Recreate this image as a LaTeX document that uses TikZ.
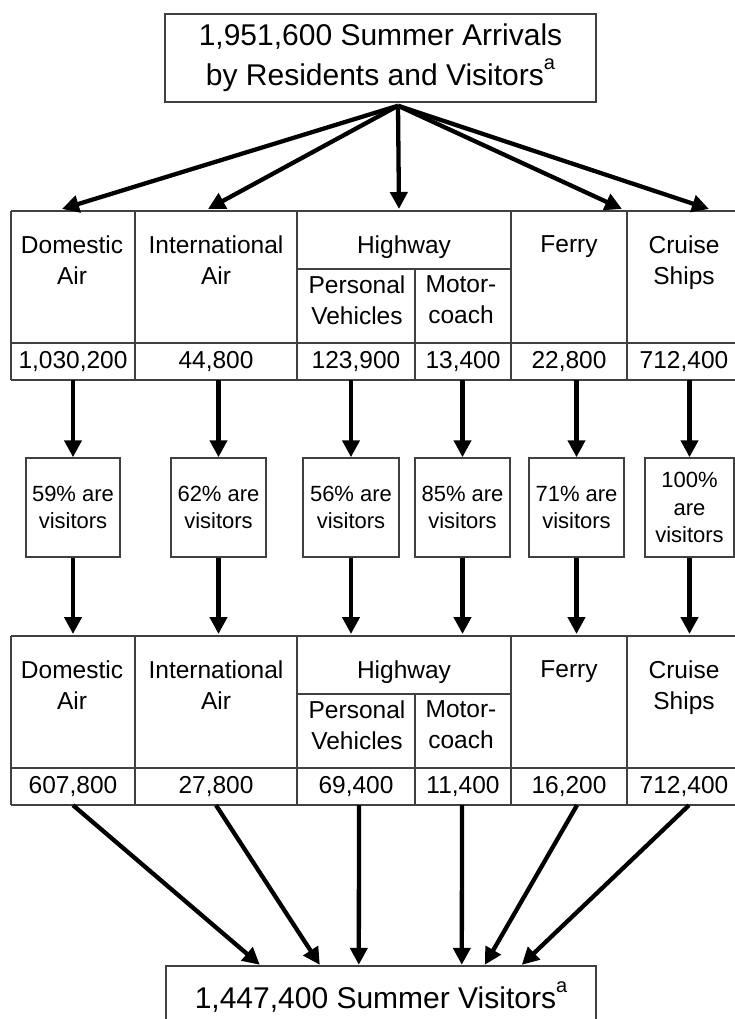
\documentclass[tikz,border=0pt]{standalone}
\usepackage{fontspec}
\setmainfont{Liberation Sans}
\usetikzlibrary{arrows.meta}
\newcommand\mysupa{\raisebox{16pt}{\fontsize{20}{20}\selectfont a}}
\tikzset{
  gridline/.style={line width=1.5pt, draw=black!75},
  arr/.style={line width=4.3pt, draw=black, -{Triangle[length=17pt,width=17pt]}},
  bigtext/.style={font=\fontsize{30}{40}\selectfont},
  hdr/.style={font=\fontsize{24.5}{31}\selectfont, align=center, anchor=north, inner sep=0pt},
  num/.style={font=\fontsize{24.5}{31}\selectfont, inner sep=0pt, minimum height=37pt},
  pct/.style={draw=black!75, line width=1.5pt, font=\fontsize{22}{27.5}\selectfont, align=center,
              minimum width=95pt, minimum height=99pt, inner sep=0pt},
}
\begin{document}
\begin{tikzpicture}[x=1pt,y=-1pt]
\useasboundingbox (0,0) rectangle (735,1019);
\fill[white] (0,0) rectangle (735,1019);

% top box
\node[draw=black!75, line width=1.5pt, minimum width=431pt, minimum height=88pt, inner sep=0pt,
      bigtext, align=center] (src) at (380.5,58) {1,951,600 Summer Arrivals\\ by Residents and Visitors\mysupa};

% ---------- table 1 ----------
\draw[gridline] (11,211) -- (735,211) (11,343) -- (735,343) (11,380) -- (735,380) (297,269) -- (511,269)
  (11,211) -- (11,380) (135,211) -- (135,380) (297,211) -- (297,380) (511,211) -- (511,380)
  (627,211) -- (627,380) (415,269) -- (415,380);
\node[hdr] (h1dom) at (72,235.5) {Domestic\\Air};
\node[hdr] (h1int) at (216,235.5) {International\\Air};
\node[hdr] (h1hwy) at (404,235.5) {Highway};
\node[hdr] (h1per) at (357,275.5) {Personal\\Vehicles};
\node[hdr] (h1mot) at (461,275.5) {Motor-\\coach};
\node[hdr] (h1fer) at (569,235.5) {Ferry};
\node[hdr] (h1cru) at (684,235.5) {Cruise\\Ships};
\node[num, minimum width=124pt] (n1dom) at (73,361.5) {1,030,200};
\node[num, minimum width=162pt] (n1int) at (216,361.5) {44,800};
\node[num, minimum width=118pt] (n1per) at (356,361.5) {123,900};
\node[num, minimum width=96pt] (n1mot) at (463,361.5) {13,400};
\node[num, minimum width=116pt] (n1fer) at (569,361.5) {22,800};
\node[num, minimum width=114pt] (n1cru) at (684,361.5) {712,400};

% arrows from source
\coordinate (a1) at (62,209);
\coordinate (a2) at (208,209);
\coordinate (a3) at (399,209);
\coordinate (a4) at (622,209);
\coordinate (a5) at (709,209);
\coordinate (srcpt) at ([shift={(17.5,3)}]src.south);
\foreach \t in {a1,a2,a3,a4,a5} \draw[arr] (srcpt) -- (\t);

% percent boxes
\node[pct, minimum width=94pt] (pdom) at (73,507.5) {59\% are\\visitors};
\node[pct] (pint) at (218.5,507.5) {62\% are\\visitors};
\node[pct, minimum width=96pt] (pper) at (351,507.5) {56\% are\\visitors};
\node[pct] (pmot) at (462.5,507.5) {85\% are\\visitors};
\node[pct] (pfer) at (576.5,507.5) {71\% are\\visitors};
\node[pct, minimum width=89pt] (pcru) at (689.5,507.5) {100\%\\are\\visitors};

\draw[arr] (n1dom.south -| pdom.north) -- (pdom.north);
\draw[arr] (n1int.south -| pint.north) -- (pint.north);
\draw[arr] (n1per.south -| pper.north) -- (pper.north);
\draw[arr] (n1mot.south -| pmot.north) -- (pmot.north);
\draw[arr] (n1fer.south -| pfer.north) -- (pfer.north);
\draw[arr] (n1cru.south -| pcru.north) -- (pcru.north);

% ---------- table 2 ----------
\coordinate (t2) at (0,634);
\draw[gridline] (11,636) -- (735,636) (11,768) -- (735,768) (11,805) -- (735,805) (297,694) -- (511,694)
  (11,636) -- (11,805) (135,636) -- (135,805) (297,636) -- (297,805) (511,636) -- (511,805)
  (627,636) -- (627,805) (415,694) -- (415,805);
\node[hdr] (h2dom) at (72,660.5) {Domestic\\Air};
\node[hdr] (h2int) at (216,660.5) {International\\Air};
\node[hdr] (h2hwy) at (404,660.5) {Highway};
\node[hdr] (h2per) at (357,700.5) {Personal\\Vehicles};
\node[hdr] (h2mot) at (461,700.5) {Motor-\\coach};
\node[hdr] (h2fer) at (569,660.5) {Ferry};
\node[hdr] (h2cru) at (684,660.5) {Cruise\\Ships};
\node[num, minimum width=124pt] (n2dom) at (73,786.5) {607,800};
\node[num, minimum width=162pt] (n2int) at (216,786.5) {27,800};
\node[num, minimum width=118pt] (n2per) at (356,786.5) {69,400};
\node[num, minimum width=96pt] (n2mot) at (463,786.5) {11,400};
\node[num, minimum width=116pt] (n2fer) at (569,786.5) {16,200};
\node[num, minimum width=114pt] (n2cru) at (684,786.5) {712,400};

\draw[arr] (pdom.south) -- (pdom.south |- t2);
\draw[arr] (pint.south) -- (pint.south |- t2);
\draw[arr] (pper.south) -- (pper.south |- t2);
\draw[arr] (pmot.south) -- (pmot.south |- t2);
\draw[arr] (pfer.south) -- (pfer.south |- t2);
\draw[arr] (pcru.south) -- (pcru.south |- t2);

% bottom box
\node[minimum width=430pt, minimum height=53pt, inner sep=0pt, text height=31pt, text depth=0pt,
      bigtext] (bot) at (381,992.5) {1,447,400 Summer Visitors\mysupa};
\draw[gridline] (bot.south west) -- (bot.north west) -- (bot.north east) -- (bot.south east);

\draw[arr] (n2dom.south) -- ([xshift=94pt,yshift=1pt]bot.north west);
\draw[arr] (n2int.south) -- ([xshift=154pt,yshift=1pt]bot.north west);
\draw[arr] ([xshift=3pt]n2per.south) -- ([xshift=193pt,yshift=1pt]bot.north west);
\draw[arr] ([xshift=-1pt]n2mot.south) -- ([xshift=296pt,yshift=1pt]bot.north west);
\draw[arr] ([xshift=8pt]n2fer.south) -- ([xshift=319pt,yshift=1pt]bot.north west);
\draw[arr] ([xshift=5pt]n2cru.south) -- ([xshift=356pt,yshift=1pt]bot.north west);
\end{tikzpicture}
\end{document}
